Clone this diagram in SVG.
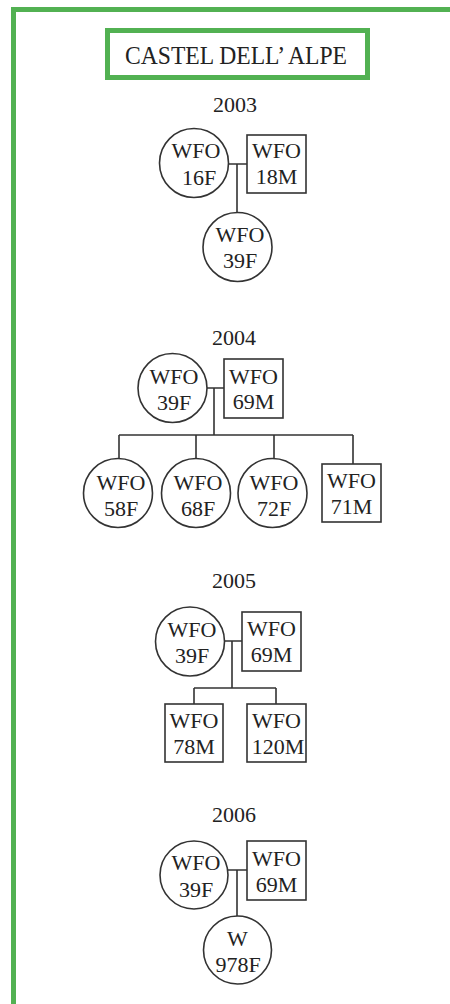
<svg xmlns="http://www.w3.org/2000/svg" width="450" height="1004" viewBox="0 0 450 1004">
  <style>
    .frame { fill: none; stroke: #52b152; stroke-width: 5; }
    .node { fill: #ffffff; stroke: #333333; stroke-width: 1.6; }
    .link { fill: none; stroke: #333333; stroke-width: 1.6; }
    .lbl { font-family: "Liberation Serif", "Times New Roman", serif; font-size: 22px; fill: #222222; text-anchor: middle; }
    .year { font-family: "Liberation Serif", "Times New Roman", serif; font-size: 22px; fill: #222222; text-anchor: middle; }
    .title { font-family: "Liberation Serif", "Times New Roman", serif; font-size: 25px; fill: #222222; text-anchor: middle; }
  </style>
  <rect x="0" y="0" width="450" height="1004" fill="#ffffff"/>

  <!-- outer page border, open to the right and bottom -->
  <path class="frame" d="M13.5,1010 V9.5 H460"/>

  <!-- title -->
  <g id="title">
    <rect class="frame" x="107.5" y="30.5" width="260" height="47"/>
    <text class="title" x="236" y="64" textLength="222" lengthAdjust="spacingAndGlyphs">CASTEL DELL’ ALPE</text>
  </g>

  <!-- year headings -->
  <text id="y2003" class="year" x="235" y="112">2003</text>
  <text id="y2004" class="year" x="234" y="345">2004</text>
  <text id="y2005" class="year" x="234" y="588">2005</text>
  <text id="y2006" class="year" x="234" y="822">2006</text>

  <!-- connectors -->
  <g id="connectors">
    <!-- 2003 -->
    <path class="link" d="M228,164 H247 M237,164 V212"/>
    <!-- 2004 -->
    <path class="link" d="M207,388 H224 M214,388 V435 M119,435 H353 M119,435 V458 M196,435 V458 M274,435 V458 M353,435 V464"/>
    <!-- 2005 -->
    <path class="link" d="M224,641 H242 M232,641 V688 M194,688 H276 M194,688 V704 M276,688 V704"/>
    <!-- 2006 -->
    <path class="link" d="M228,870 H247 M237,870 V916"/>
  </g>

  <!-- 2003 family -->
  <g id="n2003_16F">
    <circle class="node" cx="194" cy="163" r="34.5"/>
    <text class="lbl" x="196" y="158">WFO</text>
    <text class="lbl" x="199" y="185">16F</text>
  </g>
  <g id="n2003_18M">
    <rect class="node" x="247" y="135" width="59" height="58"/>
    <text class="lbl" x="276.5" y="158">WFO</text>
    <text class="lbl" x="276.5" y="184">18M</text>
  </g>
  <g id="n2003_39F">
    <circle class="node" cx="237.5" cy="247" r="34.5"/>
    <text class="lbl" x="240" y="242">WFO</text>
    <text class="lbl" x="240" y="268">39F</text>
  </g>

  <!-- 2004 family -->
  <g id="n2004_39F">
    <circle class="node" cx="172.5" cy="388" r="34.5"/>
    <text class="lbl" x="174" y="384">WFO</text>
    <text class="lbl" x="174" y="410">39F</text>
  </g>
  <g id="n2004_69M">
    <rect class="node" x="224" y="359" width="59" height="59"/>
    <text class="lbl" x="253.5" y="384">WFO</text>
    <text class="lbl" x="253.5" y="409">69M</text>
  </g>
  <g id="n2004_58F">
    <circle class="node" cx="118" cy="493" r="34.5"/>
    <text class="lbl" x="121" y="490">WFO</text>
    <text class="lbl" x="121" y="516">58F</text>
  </g>
  <g id="n2004_68F">
    <circle class="node" cx="196" cy="493" r="34.5"/>
    <text class="lbl" x="198" y="490">WFO</text>
    <text class="lbl" x="198" y="516">68F</text>
  </g>
  <g id="n2004_72F">
    <circle class="node" cx="272.5" cy="493" r="34.5"/>
    <text class="lbl" x="274" y="490">WFO</text>
    <text class="lbl" x="274" y="516">72F</text>
  </g>
  <g id="n2004_71M">
    <rect class="node" x="322" y="464" width="59" height="58"/>
    <text class="lbl" x="351.5" y="488">WFO</text>
    <text class="lbl" x="351.5" y="514">71M</text>
  </g>

  <!-- 2005 family -->
  <g id="n2005_39F">
    <circle class="node" cx="190" cy="641.5" r="34.5"/>
    <text class="lbl" x="192" y="637">WFO</text>
    <text class="lbl" x="192" y="663">39F</text>
  </g>
  <g id="n2005_69M">
    <rect class="node" x="242" y="612" width="59" height="59"/>
    <text class="lbl" x="271.5" y="636">WFO</text>
    <text class="lbl" x="271.5" y="662">69M</text>
  </g>
  <g id="n2005_78M">
    <rect class="node" x="165" y="704" width="58" height="58"/>
    <text class="lbl" x="194" y="728">WFO</text>
    <text class="lbl" x="194" y="754">78M</text>
  </g>
  <g id="n2005_120M">
    <rect class="node" x="247" y="704" width="59" height="58"/>
    <text class="lbl" x="276.5" y="728">WFO</text>
    <text class="lbl" x="278" y="754">120M</text>
  </g>

  <!-- 2006 family -->
  <g id="n2006_39F">
    <circle class="node" cx="194" cy="875" r="34"/>
    <text class="lbl" x="196" y="870">WFO</text>
    <text class="lbl" x="196" y="897">39F</text>
  </g>
  <g id="n2006_69M">
    <rect class="node" x="247" y="841" width="59" height="59"/>
    <text class="lbl" x="276.5" y="866">WFO</text>
    <text class="lbl" x="276.5" y="892">69M</text>
  </g>
  <g id="n2006_978F">
    <circle class="node" cx="237.5" cy="950" r="34"/>
    <text class="lbl" x="237.5" y="946">W</text>
    <text class="lbl" x="238" y="972">978F</text>
  </g>
</svg>
